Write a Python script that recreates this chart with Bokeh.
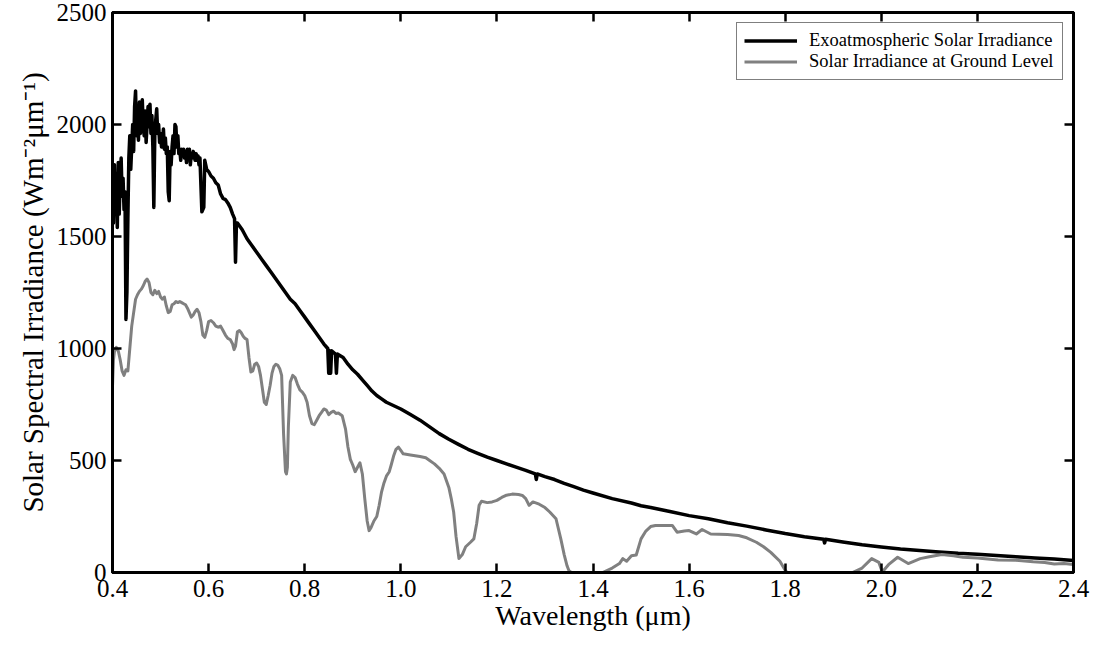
from bokeh.plotting import figure
from bokeh.models import (Range1d, LinearAxis, FixedTicker, PrintfTickFormatter,
                          CustomJSTickFormatter, Legend, LegendItem)
from bokeh.embed import file_html
from bokeh.resources import INLINE

# ---------------- data ----------------
series_names = ["Exoatmospheric Solar Irradiance", "Solar Irradiance at Ground Level"]

ext_wl = [0.400, 0.402, 0.404, 0.406, 0.408, 0.410, 0.412, 0.414, 0.416, 0.418,
          0.420, 0.422, 0.424, 0.426, 0.428, 0.430, 0.432, 0.434, 0.436, 0.438,
          0.440, 0.442, 0.444, 0.446, 0.448, 0.450, 0.452, 0.454, 0.456, 0.458,
          0.460, 0.462, 0.464, 0.466, 0.468, 0.470, 0.472, 0.474, 0.476, 0.478,
          0.480, 0.482, 0.484, 0.486, 0.488, 0.490, 0.492, 0.494, 0.496, 0.498,
          0.500, 0.502, 0.504, 0.506, 0.508, 0.510, 0.512, 0.514, 0.516, 0.518,
          0.520, 0.522, 0.524, 0.526, 0.528, 0.530, 0.532, 0.534, 0.536, 0.538,
          0.540, 0.542, 0.544, 0.546, 0.548, 0.550, 0.552, 0.554, 0.556, 0.558,
          0.560, 0.562, 0.564, 0.566, 0.568, 0.570, 0.572, 0.574, 0.576, 0.578,
          0.580, 0.582, 0.586, 0.590, 0.592, 0.596, 0.600, 0.605, 0.610, 0.615,
          0.620, 0.625, 0.630, 0.635, 0.640, 0.645, 0.650, 0.654, 0.656, 0.658,
          0.660, 0.670, 0.680, 0.690, 0.700, 0.710, 0.720, 0.730, 0.740, 0.750,
          0.760, 0.770, 0.780, 0.790, 0.800, 0.810, 0.820, 0.830, 0.840, 0.848,
          0.850, 0.852, 0.854, 0.856, 0.864, 0.866, 0.868, 0.880, 0.890, 0.900,
          0.910, 0.920, 0.930, 0.940, 0.950, 0.960, 0.970, 0.980, 0.990, 1.000,
          1.020, 1.040, 1.060, 1.080, 1.100, 1.120, 1.140, 1.160, 1.180, 1.200,
          1.220, 1.240, 1.260, 1.280, 1.282, 1.284, 1.300, 1.320, 1.340, 1.360,
          1.380, 1.400, 1.440, 1.480, 1.500, 1.520, 1.560, 1.600, 1.640, 1.680,
          1.720, 1.760, 1.800, 1.840, 1.880, 1.882, 1.884, 1.920, 1.960, 2.000,
          2.040, 2.080, 2.120, 2.160, 2.200, 2.240, 2.280, 2.320, 2.360, 2.400]
ext_val = [1700, 1560, 1820, 1620, 1780, 1540, 1830, 1600, 1760, 1850,
           1680, 1760, 1620, 1700, 1130, 1250, 1580, 1850, 1950, 1800,
           1900, 2000, 1880, 2080, 2150, 1950, 2010, 1930, 2100, 1960,
           2050, 2110, 1990, 1950, 2060, 1920, 2000, 2080, 1990, 2090,
           1960, 2040, 1900, 1630, 1950, 2020, 2070, 1960, 2000, 1920,
           1960, 1900, 1920, 1980, 1890, 1940, 1870, 1900, 1700, 1660,
           1880, 1820, 1900, 1950, 1870, 2000, 1990, 1900, 1950, 1870,
           1890, 1840, 1890, 1860, 1890, 1850, 1880, 1830, 1890, 1860,
           1890, 1820, 1870, 1850, 1880, 1860, 1840, 1870, 1840, 1860,
           1820, 1850, 1610, 1630, 1840, 1800, 1790, 1770, 1760, 1740,
           1730, 1690, 1670, 1665, 1650, 1630, 1600, 1580, 1385, 1560,
           1560, 1530, 1490, 1460, 1430, 1400, 1370, 1340, 1310, 1280,
           1250, 1220, 1200, 1170, 1140, 1110, 1080, 1050, 1020, 1000,
           890, 990, 890, 990, 975, 890, 975, 960, 930, 905,
           885, 860, 835, 810, 790, 775, 760, 750, 740, 730,
           705, 680, 650, 620, 595, 572, 550, 532, 515, 500,
           485, 470, 456, 440, 415, 440, 428, 415, 398, 383,
           368, 355, 330, 310, 298, 290, 272, 254, 240, 222,
           207, 190, 174, 160, 148, 132, 148, 136, 124, 114,
           105, 98, 92, 86, 82, 76, 70, 65, 60, 54]

gnd_wl = [0.400, 0.402, 0.404, 0.408, 0.412, 0.416, 0.420, 0.424, 0.428, 0.432,
          0.436, 0.440, 0.444, 0.448, 0.452, 0.456, 0.460, 0.464, 0.468, 0.472,
          0.476, 0.480, 0.484, 0.488, 0.492, 0.496, 0.500, 0.504, 0.508, 0.512,
          0.516, 0.520, 0.524, 0.528, 0.532, 0.536, 0.540, 0.544, 0.548, 0.552,
          0.556, 0.560, 0.564, 0.568, 0.572, 0.576, 0.580, 0.584, 0.588, 0.592,
          0.596, 0.600, 0.605, 0.610, 0.615, 0.620, 0.625, 0.630, 0.635, 0.640,
          0.645, 0.650, 0.653, 0.656, 0.660, 0.664, 0.668, 0.672, 0.676, 0.680,
          0.684, 0.688, 0.692, 0.696, 0.700, 0.704, 0.708, 0.712, 0.716, 0.720,
          0.724, 0.728, 0.732, 0.736, 0.740, 0.744, 0.748, 0.752, 0.756, 0.760,
          0.762, 0.764, 0.766, 0.770, 0.775, 0.780, 0.785, 0.790, 0.795, 0.800,
          0.805, 0.810, 0.815, 0.820, 0.825, 0.830, 0.835, 0.840, 0.845, 0.850,
          0.855, 0.860, 0.865, 0.870, 0.878, 0.885, 0.890, 0.895, 0.900, 0.905,
          0.910, 0.915, 0.920, 0.925, 0.930, 0.934, 0.938, 0.944, 0.950, 0.955,
          0.960, 0.965, 0.970, 0.976, 0.980, 0.985, 0.990, 0.995, 1.000, 1.005,
          1.020, 1.040, 1.052, 1.060, 1.070, 1.080, 1.090, 1.100, 1.105, 1.110,
          1.115, 1.121, 1.128, 1.135, 1.145, 1.152, 1.158, 1.163, 1.168, 1.180,
          1.190, 1.200, 1.210, 1.220, 1.232, 1.245, 1.253, 1.260, 1.267, 1.275,
          1.288, 1.300, 1.310, 1.323, 1.333, 1.340, 1.346, 1.350, 1.355, 1.420,
          1.440, 1.455, 1.462, 1.470, 1.480, 1.490, 1.500, 1.510, 1.520, 1.530,
          1.565, 1.575, 1.590, 1.600, 1.615, 1.627, 1.645, 1.680, 1.703, 1.720,
          1.740, 1.755, 1.770, 1.789, 1.800, 1.804, 1.940, 1.960, 1.980, 1.995,
          2.002, 2.015, 2.034, 2.056, 2.081, 2.100, 2.126, 2.150, 2.170, 2.200,
          2.243, 2.280, 2.316, 2.340, 2.360, 2.380, 2.400]
gnd_val = [830, 950, 985, 1005, 990, 950, 900, 880, 905, 900,
           1000, 1100, 1160, 1220, 1240, 1255, 1265, 1280, 1300, 1310,
           1295, 1250, 1240, 1260, 1245, 1255, 1230, 1220, 1230, 1190,
           1160, 1165, 1195, 1200, 1210, 1205, 1210, 1205, 1200, 1195,
           1180, 1160, 1140, 1150, 1165, 1175, 1160, 1120, 1060, 1050,
           1080, 1120, 1125, 1115, 1100, 1095, 1100, 1080, 1060, 1045,
           1040, 1020, 995, 1010, 1075, 1080, 1070, 1055, 1045, 1040,
           960, 895, 900, 930, 935, 920, 880, 820, 760, 750,
           790, 835, 890, 920, 930, 925, 910, 880, 620, 450,
           440, 470, 650, 850, 880, 870, 840, 815, 805, 790,
           760, 700, 665, 660, 680, 700, 715, 730, 725, 705,
           715, 720, 710, 712, 700, 640, 560, 505, 480, 450,
           470, 490, 440, 330, 230, 187, 200, 230, 250, 300,
           360, 400, 430, 450, 480, 520, 550, 560, 545, 530,
           525, 518, 512, 500, 485, 465, 440, 380, 330, 270,
           160, 62, 80, 115, 135, 150, 220, 300, 318, 312,
           315, 322, 335, 345, 350, 348, 344, 330, 300, 315,
           305, 290, 270, 240, 150, 80, 30, 8, 0, 0,
           20, 40, 62, 50, 75, 78, 150, 185, 205, 210,
           210, 180, 185, 187, 172, 192, 172, 170, 165, 155,
           135, 115, 90, 50, 10, 0, 0, 20, 62, 45,
           2, 35, 68, 40, 62, 70, 80, 75, 68, 65,
           56, 55, 48, 45, 38, 40, 36]

x_ticks = [0.4, 0.6, 0.8, 1.0, 1.2, 1.4, 1.6, 1.8, 2.0, 2.2, 2.4]
y_ticks = [0, 500, 1000, 1500, 2000, 2500]
x_title = "Wavelength (μm)"
y_title = "Solar Spectral Irradiance (Wm⁻²μm⁻¹)"

FONT = "Liberation Serif"

# ---------------- figure ----------------
p = figure(frame_width=961, frame_height=560,
           x_range=Range1d(0.4, 2.4), y_range=Range1d(0, 2500),
           output_backend="svg", toolbar_location=None,
           min_border_left=112, min_border_top=12, min_border_right=20,
           min_border_bottom=71, background_fill_color="white",
           border_fill_color="white")
p.grid.visible = False
p.outline_line_color = "black"
p.outline_line_width = 3

def style_axis(ax, ticks, show_labels):
    ax.ticker = FixedTicker(ticks=ticks)
    ax.minor_tick_line_color = None
    ax.major_tick_in = 9
    ax.major_tick_out = 0
    ax.major_tick_line_width = 2.5
    ax.major_tick_line_color = "black"
    ax.axis_line_width = 3
    ax.axis_line_color = "black"
    ax.major_label_text_font = FONT
    ax.major_label_text_color = "black"
    if show_labels:
        ax.major_label_text_font_size = "25px"
    else:
        ax.formatter = CustomJSTickFormatter(code="return ''")
        ax.major_label_text_font_size = "1px"
        ax.major_label_standoff = 0

xa = p.xaxis[0]
style_axis(xa, x_ticks, True)
xa.formatter = PrintfTickFormatter(format="%.1f")
xa.major_label_standoff = 7
xa.axis_label = x_title
xa.axis_label_text_font = FONT
xa.axis_label_text_font_style = "normal"
xa.axis_label_text_font_size = "28px"
xa.axis_label_text_color = "black"
xa.axis_label_standoff = 0

ya = p.yaxis[0]
style_axis(ya, y_ticks, True)
ya.major_label_standoff = 6
ya.axis_label = y_title
ya.axis_label_text_font = FONT
ya.axis_label_text_font_style = "normal"
ya.axis_label_text_font_size = "29px"
ya.axis_label_text_color = "black"
ya.axis_label_standoff = 5

top = LinearAxis()
style_axis(top, x_ticks, False)
p.add_layout(top, "above")
right = LinearAxis()
style_axis(right, y_ticks, False)
p.add_layout(right, "right")

r_ext = p.line(ext_wl, ext_val, line_color="black", line_width=3.5, line_join="round")
r_gnd = p.line(gnd_wl, gnd_val, line_color="#808080", line_width=3, line_join="round")

legend = Legend(items=[LegendItem(label=series_names[0], renderers=[r_ext]),
                       LegendItem(label=series_names[1], renderers=[r_gnd])],
                location="top_right")
legend.label_text_font = FONT
legend.label_text_font_size = "18.5px"
legend.label_text_color = "black"
legend.glyph_width = 53
legend.glyph_height = 21
legend.label_height = 21
legend.label_width = 246
legend.label_standoff = 12
legend.padding = 7
legend.spacing = 0
legend.margin = 10
legend.border_line_color = "black"
legend.border_line_width = 1
legend.background_fill_color = "white"
legend.background_fill_alpha = 1
p.add_layout(legend)

open("out.html", "w").write(file_html(p, INLINE))
